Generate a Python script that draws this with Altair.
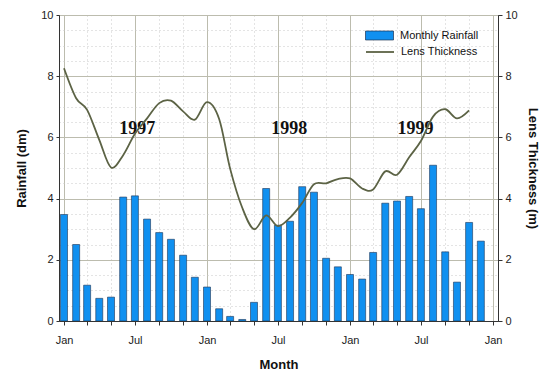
import altair as alt
import pandas as pd

# ---------------- data ----------------
months = pd.date_range("1997-01-01", periods=36, freq="MS")
rainfall = [3.48, 2.50, 1.17, 0.74, 0.78, 4.05, 4.09, 3.33, 2.89, 2.67, 2.15, 1.43,
            1.11, 0.40, 0.15, 0.05, 0.61, 4.33, 3.13, 3.26, 4.39, 4.21, 2.05, 1.77,
            1.52, 1.37, 2.24, 3.85, 3.92, 4.07, 3.67, 5.09, 2.26, 1.27, 3.22, 2.61]
lens_thickness = [8.26, 7.28, 6.90, 5.92, 5.02, 5.42, 6.12, 6.62, 7.12, 7.20, 6.85, 6.58,
                  7.15, 6.60, 4.98, 3.70, 3.00, 3.45, 3.10, 3.38, 3.86, 4.47, 4.50, 4.64,
                  4.66, 4.33, 4.30, 4.89, 4.78, 5.35, 5.88, 6.68, 6.92, 6.62, 6.88]
year_labels = ["1997", "1998", "1999"]
year_label_dates = ["1997-07-07", "1998-07-30", "1999-06-17"]
year_label_y = [6.28, 6.28, 6.28]

rain_df = pd.DataFrame({"date": months, "rain": rainfall, "series": "Monthly Rainfall"})
lens_df = pd.DataFrame({"date": months[:len(lens_thickness)], "lens": lens_thickness,
                        "series": "Lens Thickness"})
ann_df = pd.DataFrame({"date": pd.to_datetime(year_label_dates), "y": year_label_y,
                       "label": year_labels})

x_values = [alt.DateTime(year=y, month=m, date=1)
            for y in (1997, 1998, 1999) for m in (1, 3, 5, 7, 9, 11)] + \
           [alt.DateTime(year=2000, month=1, date=1)]
x_domain = [alt.DateTime(year=1997, month=1, date=1), alt.DateTime(year=2000, month=1, date=1)]

FONT = "Liberation Sans"
MAJOR = "#bcbcae"
MINOR = "#c8c8c8"

x_axis = alt.Axis(
    values=x_values,
    labelExpr="(month(datum.value) % 6 == 0) ? timeFormat(datum.value, '%b') : ''",
    title="Month", titleFontWeight="bold", titleFontSize=13, titlePadding=13,
    labelFontSize=11, labelPadding=9, labelOverlap=False, labelFlush=False,
    tickSize=4, tickColor="#333", domainColor="#333",
    grid=True,
    gridColor={"condition": {"test": "month(datum.value) % 6 == 0", "value": MAJOR}, "value": MINOR},
    gridDash={"condition": {"test": "month(datum.value) % 6 == 0", "value": []}, "value": [1, 3]},
)
x_enc = alt.X("date:T", scale=alt.Scale(domain=x_domain), axis=x_axis)

y_left_axis = alt.Axis(
    values=[i * 0.5 for i in range(21)],
    labelExpr="(datum.value % 2 == 0) ? format(datum.value, 'd') : ''",
    title="Rainfall (dm)", titleFontWeight="bold", titleFontSize=13, titlePadding=12,
    labelFontSize=11, labelPadding=3, tickSize=3,
    tickColor={"condition": {"test": "datum.value % 2 == 0", "value": "#333"}, "value": "transparent"},
    domainColor="#333", grid=True,
    gridColor={"condition": {"test": "datum.value % 2 == 0", "value": MAJOR}, "value": MINOR},
    gridDash={"condition": {"test": "datum.value % 2 == 0", "value": []}, "value": [1, 3]},
)
y_right_axis = alt.Axis(
    orient="right", values=[0, 2, 4, 6, 8, 10],
    title="Lens Thickness (m)", titleFontWeight="bold", titleFontSize=13, titlePadding=8,
    labelFontSize=11, labelPadding=3, tickSize=4, tickColor="#333", domainColor="#333",
    grid=False,
)

bars = alt.Chart(rain_df).mark_bar(size=7, clip=True, stroke="#1c3455", strokeWidth=0.6).encode(
    x=x_enc,
    y=alt.Y("rain:Q", scale=alt.Scale(domain=[0, 10], nice=False), axis=y_left_axis),
    fill=alt.Fill("series:N", scale=alt.Scale(range=["#1090f0"]),
                  legend=alt.Legend(orient="none", legendX=306, legendY=6, title=None,
                                    symbolType="M-1,-0.32H1V0.32H-1Z", symbolSize=784,
                                    symbolStrokeColor="#1c3455", symbolStrokeWidth=0.7,
                                    labelOffset=6, labelFontSize=11, labelFont=FONT,
                                    labelColor="#111")),
)

ann = alt.Chart(ann_df).mark_text(font="Liberation Serif", fontWeight="bold", fontSize=18,
                                  color="#111").encode(
    x=x_enc,
    y=alt.Y("y:Q", scale=alt.Scale(domain=[0, 10], nice=False), axis=None),
    text="label:N",
)

line = alt.Chart(lens_df).mark_line(interpolate="cardinal", strokeWidth=1.8, clip=True).encode(
    x=x_enc,
    y=alt.Y("lens:Q", scale=alt.Scale(domain=[0, 10], nice=False), axis=y_right_axis),
    stroke=alt.Stroke("series:N", scale=alt.Scale(range=["#5c6345"]),
                      legend=alt.Legend(orient="none", legendX=306, legendY=22, title=None,
                                        symbolType="stroke", symbolSize=784,
                                        symbolStrokeWidth=1.8,
                                        labelOffset=6, labelFontSize=11, labelFont=FONT,
                                        labelColor="#111")),
)

chart = alt.layer(bars, ann, line).resolve_scale(y="independent").properties(
    width=439, height=306,
    padding={"left": 51, "top": 7, "right": 44, "bottom": 55},
    autosize=alt.AutoSizeParams(type="none"),
    background="white",
).configure_view(stroke="#404040", strokeWidth=1).configure_axis(
    labelFont=FONT, titleFont=FONT, labelColor="#222", titleColor="#111"
)

chart.save("out.html", embed_options={"renderer": "svg", "actions": False})
